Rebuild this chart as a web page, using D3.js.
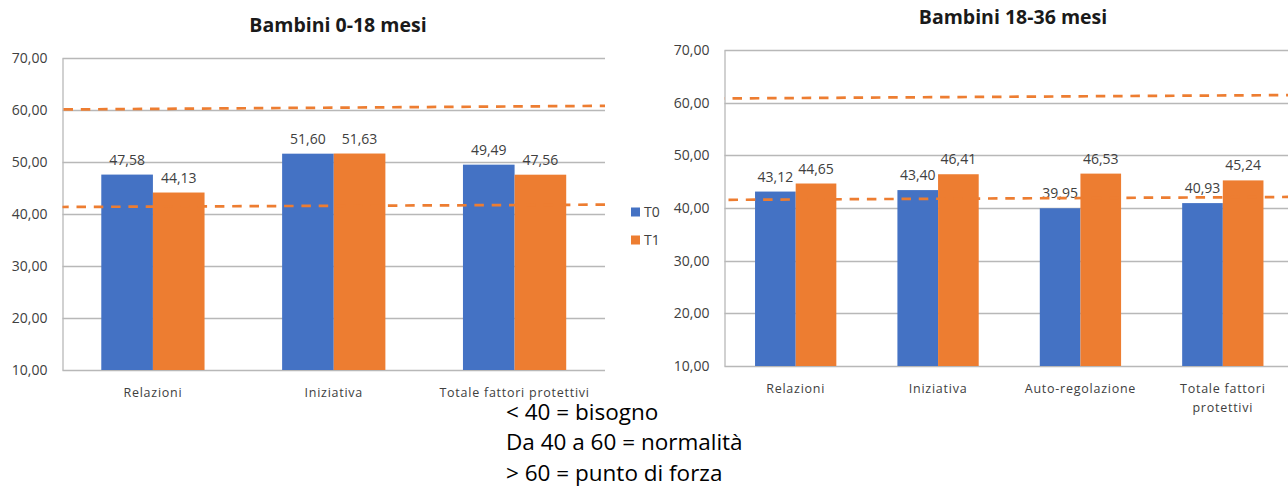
<!DOCTYPE html>
<html>
<head>
<meta charset="utf-8">
<script src="https://cdn.jsdelivr.net/npm/d3@7"></script>
<style>
  html, body { margin: 0; padding: 0; background: #fff; }
  svg { display: block; font-family: "Open Sans", sans-serif; }
</style>
</head>
<body>
<svg id="chart" width="1288" height="486"></svg>
<script>
// ---- data ----
const seriesNames = ["T0", "T1"];
const yTickValues = [10, 20, 30, 40, 50, 60, 70];

const leftTitle = "Bambini 0-18 mesi";
const leftCategories = ["Relazioni", "Iniziativa", "Totale fattori protettivi"];
const leftT0 = [47.58, 51.60, 49.49];
const leftT1 = [44.13, 51.63, 47.56];
// dashed reference lines: value at the left and right end of the plot
const leftUpperLine = [60.1, 60.8];
const leftLowerLine = [41.35, 41.8];

const rightTitle = "Bambini 18-36 mesi";
const rightCategories = ["Relazioni", "Iniziativa", "Auto-regolazione", "Totale fattori protettivi"];
const rightT0 = [43.12, 43.40, 39.95, 40.93];
const rightT1 = [44.65, 46.41, 46.53, 45.24];
const rightUpperLine = [60.8, 61.45];
const rightLowerLine = [41.55, 42.1];

const notes = ["< 40 = bisogno", "Da 40 a 60 = normalità", "> 60 = punto di forza"];

// ---- style ----
const colors = { T0: "#4472C4", T1: "#ED7D31" };
const gridColor = "#B8B8B8";
const textColor = "#404040";
const itLocale = d3.formatLocale({ decimal: ",", thousands: ".", grouping: [3], currency: ["€", ""] });
const fmt = itLocale.format(".2f");

const svg = d3.select("#chart");

// break a category label into lines no wider than maxWidth
function wrapLabel(textSel, maxWidth, lineHeight) {
  textSel.each(function () {
    const t = d3.select(this);
    const words = t.text().split(/\s+/);
    t.text(null);
    let line = [];
    let tspan = t.append("tspan").attr("x", 0).attr("dy", 0);
    for (const w of words) {
      line.push(w);
      tspan.text(line.join(" "));
      if (tspan.node().getComputedTextLength() > maxWidth && line.length > 1) {
        line.pop();
        tspan.text(line.join(" "));
        line = [w];
        tspan = t.append("tspan").attr("x", 0).attr("dy", lineHeight).text(w);
      }
    }
  });
}

function drawChart(cfg) {
  const g = svg.append("g");
  const y = d3.scaleLinear().domain([10, 70]).range([cfg.bottom, cfg.top]);
  const x = d3.scaleBand().domain(cfg.categories).range([cfg.left, cfg.right]).padding(0);
  const groupWidth = x.bandwidth() * 0.571;
  const xs = d3.scaleBand().domain(seriesNames).range([0, groupWidth]).padding(0);

  // gridlines
  g.append("g")
    .selectAll("line")
    .data(yTickValues)
    .join("line")
    .attr("x1", cfg.left).attr("x2", cfg.right)
    .attr("y1", d => Math.round(y(d)) + 0.5).attr("y2", d => Math.round(y(d)) + 0.5)
    .attr("stroke", gridColor).attr("stroke-width", 1.3);

  // y axis
  const yAxis = g.append("g")
    .attr("transform", `translate(${cfg.left},0)`)
    .call(d3.axisLeft(y).tickValues(yTickValues).tickSize(0).tickPadding(15).tickFormat(fmt));
  yAxis.select(".domain").attr("stroke", gridColor).attr("stroke-width", 1.3);
  yAxis.selectAll("text")
    .attr("fill", textColor).style("font-size", "14px").style("font-family", "Open Sans");

  // bars
  const rows = cfg.categories.map((c, i) => ({ cat: c, T0: cfg.t0[i], T1: cfg.t1[i] }));
  const groups = g.append("g").selectAll("g")
    .data(rows).join("g")
    .attr("transform", d => `translate(${x(d.cat) + (x.bandwidth() - groupWidth) / 2},0)`);
  const cells = groups.selectAll("g")
    .data(d => seriesNames.map(s => ({ s, v: d[s] })))
    .join("g");
  cells.append("rect")
    .attr("x", d => xs(d.s))
    .attr("width", xs.bandwidth())
    .attr("y", d => y(d.v))
    .attr("height", d => y(10) - y(d.v))
    .attr("fill", d => colors[d.s]);
  cells.append("text")
    .attr("x", d => xs(d.s) + xs.bandwidth() / 2)
    .attr("y", d => y(d.v) - 10)
    .attr("text-anchor", "middle")
    .attr("fill", textColor)
    .style("font-size", "14px")
    .text(d => fmt(d.v));

  // category labels
  const xAxis = g.append("g")
    .attr("transform", `translate(0,${cfg.bottom})`)
    .call(d3.axisBottom(x).tickSize(0).tickPadding(0));
  xAxis.select(".domain").remove();
  xAxis.selectAll("text")
    .attr("y", cfg.labelOffset)
    .attr("dy", 0)
    .attr("fill", textColor)
    .style("font-size", "12.5px")
    .style("letter-spacing", "0.75px")
    .style("font-family", "Open Sans")
    .call(wrapLabel, x.bandwidth() * 0.95, 19);

  // dashed reference lines
  const t = d3.scaleLinear().domain([0, 1]).range([cfg.left, cfg.right]);
  const line = d3.line().x(d => t(d[0])).y(d => y(d[1]));
  [cfg.upper, cfg.lower].forEach((vals, i) => {
    g.append("path")
      .datum([[0, vals[0]], [1, vals[1]]])
      .attr("d", line)
      .attr("fill", "none")
      .attr("stroke", "#ED7D31")
      .attr("stroke-width", 2.7)
      .attr("stroke-dasharray", "9.5,7.8")
      .attr("stroke-dashoffset", cfg.dashOffsets[i]);
  });

  // title
  g.append("text")
    .attr("x", cfg.titleX).attr("y", cfg.titleY)
    .attr("text-anchor", "middle")
    .attr("fill", "#1a1a1a")
    .style("font-size", "19.5px").style("font-weight", "bold")
    .text(cfg.title);
}

drawChart({
  title: leftTitle, titleX: 338, titleY: 32,
  categories: leftCategories, t0: leftT0, t1: leftT1,
  upper: leftUpperLine, lower: leftLowerLine, dashOffsets: [-1, -14],
  left: 62.5, right: 605, top: 58, bottom: 370, labelOffset: 27
});

drawChart({
  title: rightTitle, titleX: 1013, titleY: 24,
  categories: rightCategories, t0: rightT0, t1: rightT1,
  upper: rightUpperLine, lower: rightLowerLine, dashOffsets: [-8, -4],
  left: 724.5, right: 1294, top: 50, bottom: 366, labelOffset: 27
});

// legend
const legend = svg.append("g").attr("transform", "translate(631,0)");
const legendY = d3.scalePoint().domain(seriesNames).range([212, 240]);
legend.selectAll("rect").data(seriesNames).join("rect")
  .attr("x", 0).attr("y", d => legendY(d) - 4.5)
  .attr("width", 9).attr("height", 9)
  .attr("fill", d => colors[d]);
legend.selectAll("text").data(seriesNames).join("text")
  .attr("x", 13).attr("y", d => legendY(d) + 5)
  .attr("fill", textColor).style("font-size", "14px")
  .text(d => d);

// scale notes under the charts
svg.append("g").selectAll("text").data(notes).join("text")
  .attr("x", 506)
  .attr("y", (d, i) => 419.5 + i * 30.5)
  .attr("fill", "#000")
  .style("font-size", "22.5px")
  .text(d => d);
</script>
</body>
</html>
